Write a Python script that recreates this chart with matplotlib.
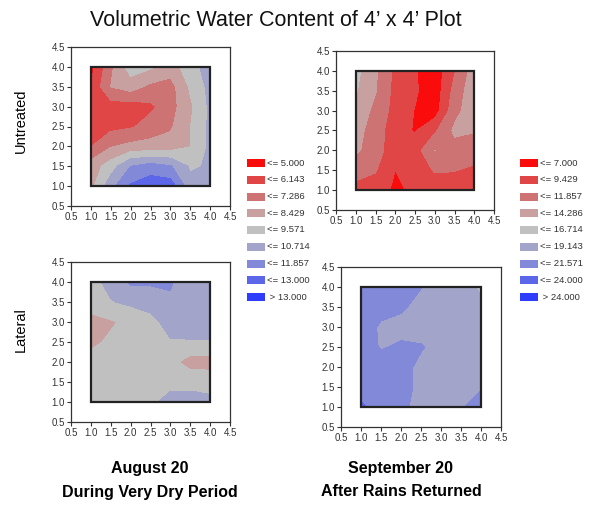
import numpy as np
import matplotlib
matplotlib.use('Agg')
import matplotlib.pyplot as plt
from matplotlib.patches import Rectangle

plt.rcParams['font.family'] = ['Liberation Sans', 'DejaVu Sans']

W, H = 593, 508

# grid of probe positions (ft); rows listed top (y=4) to bottom (y=1)
grid_x = [1.0, 1.5, 2.0, 2.5, 3.0, 3.5, 4.0]
grid_y = [4.0, 3.5, 3.0, 2.5, 2.0, 1.5, 1.0]

# August 20, untreated
aug_untreated = [
    [4.6, 7.0, 9.0, 8.6, 7.9, 9.0, 10.2],
    [5.05, 7.3, 7.8, 7.0, 6.8, 8.6, 9.9],
    [5.5, 5.6, 5.6, 5.9, 6.8, 8.2, 9.8],
    [5.7, 5.8, 6.0, 6.6, 7.1, 8.4, 9.8],
    [6.1, 7.2, 7.6, 7.7, 7.8, 8.4, 9.8],
    [7.8, 9.0, 10.7, 11.2, 10.8, 9.4, 9.7],
    [8.0, 10.3, 12.0, 12.6, 12.5, 10.0, 9.7],
]

# September 20, untreated
sep_untreated = [
    [15.0, 12.2, 8.8, 7.2, 5.5, 9.2, 13.0],
    [14.5, 12.0, 8.6, 7.3, 5.5, 10.2, 13.5],
    [13.5, 11.2, 8.5, 6.9, 5.8, 11.0, 13.5],
    [12.8, 10.6, 8.0, 6.8, 9.0, 12.3, 12.0],
    [12.2, 10.8, 7.5, 8.3, 11.9, 11.0, 10.6],
    [10.5, 9.6, 7.0, 8.2, 9.6, 9.5, 9.0],
    [8.5, 8.3, 6.5, 7.5, 8.3, 8.5, 8.5],
]

# August 20, lateral
aug_lateral = [
    [9.2, 9.9, 10.9, 10.9, 10.8, 10.2, 10.0],
    [8.6, 9.5, 9.8, 9.9, 10.6, 10.2, 10.1],
    [8.3, 8.3, 8.7, 9.3, 9.9, 10.0, 10.0],
    [8.2, 8.6, 9.0, 9.3, 9.5, 9.5, 9.5],
    [8.8, 9.0, 9.1, 9.1, 8.8, 7.9, 7.9],
    [9.0, 9.1, 9.2, 9.4, 9.2, 9.3, 9.2],
    [9.1, 9.2, 9.3, 9.3, 10.0, 9.9, 9.8],
]

# September 20, lateral
sep_lateral = [
    [20.0, 19.9, 19.7, 19.2, 18.0, 17.8, 16.3],
    [20.0, 19.7, 19.4, 18.6, 18.0, 17.8, 17.3],
    [20.0, 18.9, 18.6, 18.3, 18.0, 17.9, 17.8],
    [20.0, 19.0, 19.4, 19.3, 18.5, 18.0, 18.0],
    [20.3, 20.0, 19.8, 18.7, 18.2, 18.0, 18.1],
    [20.5, 20.2, 19.8, 18.7, 18.4, 18.6, 19.0],
    [22.0, 20.5, 19.5, 18.6, 18.4, 19.0, 19.8],
]

aug_levels = [5.0, 6.143, 7.286, 8.429, 9.571, 10.714, 11.857, 13.0]
sep_levels = [7.0, 9.429, 11.857, 14.286, 16.714, 19.143, 21.571, 24.0]

aug_labels = ['<= 5.000', '<= 6.143', '<= 7.286', '<= 8.429', '<= 9.571',
              '<= 10.714', '<= 11.857', '<= 13.000', ' > 13.000']
sep_labels = ['<= 7.000', '<= 9.429', '<= 11.857', '<= 14.286', '<= 16.714',
              '<= 19.143', '<= 21.571', '<= 24.000', ' > 24.000']

level_colors = ['#fb0c0c', '#e04646', '#cd7373', '#c8a0a0', '#c0c0c0',
                '#a2a5c9', '#8189d8', '#5c66e8', '#2e3dfc']

ticks = [0.5, 1.0, 1.5, 2.0, 2.5, 3.0, 3.5, 4.0, 4.5]


def px_axes(fig, left, top, right, bottom):
    return fig.add_axes([left / W, 1 - bottom / H, (right - left) / W, (bottom - top) / H])


def draw_panel(ax, z, levels):
    lv = [-100.0] + levels + [100.0]
    ax.contourf(grid_x, grid_y, np.array(z), levels=lv, colors=level_colors)
    x0, x1 = min(grid_x), max(grid_x)
    y0, y1 = min(grid_y), max(grid_y)
    ax.add_patch(Rectangle((x0, y0), x1 - x0, y1 - y0, fill=False,
                           edgecolor='#222222', lw=1.6, zorder=5))
    ax.set_xlim(0.5, 4.5)
    ax.set_ylim(0.5, 4.5)
    ax.set_xticks(ticks)
    ax.set_yticks(ticks)
    ax.set_xticklabels(['%.1f' % t for t in ticks])
    ax.set_yticklabels(['%.1f' % t for t in ticks])
    ax.tick_params(direction='out', length=3, width=0.8, pad=1.5,
                   labelsize=7, colors='#333333')
    for s in ax.spines.values():
        s.set_color('#333333')
        s.set_linewidth(0.9)


def draw_legend(fig, x_left, labels):
    for i, (lab, col) in enumerate(zip(labels, level_colors)):
        yc = 163 + i * 16.75
        fig.add_artist(Rectangle((x_left / W, 1 - (yc + 4) / H), 18 / W, 8 / H,
                                 transform=fig.transFigure, facecolor=col,
                                 edgecolor='none'))
        fig.text((x_left + 20) / W, 1 - yc / H, lab, va='center', ha='left',
                 fontsize=6.8, color='#333333')


fig = plt.figure(figsize=(W / 100, H / 100), dpi=100)

ax1 = px_axes(fig, 71, 47, 230, 206)
draw_panel(ax1, aug_untreated, aug_levels)
ax2 = px_axes(fig, 336, 51, 494, 210)
draw_panel(ax2, sep_untreated, sep_levels)
ax3 = px_axes(fig, 71, 262, 230, 422)
draw_panel(ax3, aug_lateral, aug_levels)
ax4 = px_axes(fig, 341, 267, 501, 427)
draw_panel(ax4, sep_lateral, sep_levels)

draw_legend(fig, 247, aug_labels)
draw_legend(fig, 520, sep_labels)

fig.text(276 / W, 1 - 21 / H, "Volumetric Water Content of 4\u2019 x 4\u2019 Plot",
         ha='center', va='center', fontsize=15.5, color='#111111')
fig.text(21 / W, 1 - 121 / H, 'Untreated', rotation=90, ha='center', va='center', fontsize=10.5)
fig.text(21 / W, 1 - 330 / H, 'Lateral', rotation=90, ha='center', va='center', fontsize=10.5)
fig.text(150 / W, 1 - 469 / H, 'August 20', ha='center', va='center',
         fontsize=11.5, fontweight='bold')
fig.text(150 / W, 1 - 492 / H, 'During Very Dry Period', ha='center', va='center',
         fontsize=11.5, fontweight='bold')
fig.text(401 / W, 1 - 469 / H, 'September 20', ha='center', va='center',
         fontsize=11.5, fontweight='bold')
fig.text(401 / W, 1 - 492 / H, 'After Rains Returned', ha='center', va='center',
         fontsize=11.5, fontweight='bold')

fig.savefig('out.png', dpi=100)
